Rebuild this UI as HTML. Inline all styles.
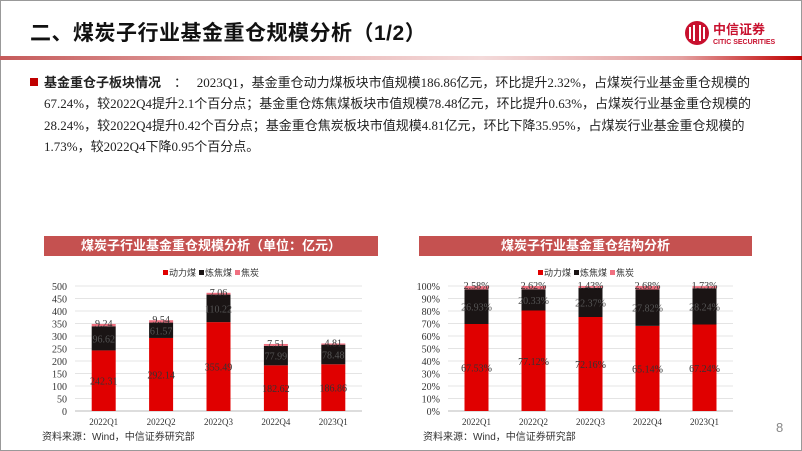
<!DOCTYPE html>
<html><head><meta charset="utf-8"><style>
body{margin:0;width:802px;height:451px;overflow:hidden;background:#fff;position:relative;font-family:"Liberation Serif","Noto Sans CJK SC",serif}
.abs{position:absolute}
.title{left:30px;top:17px;font:bold 21px "Liberation Sans","Noto Sans CJK SC",sans-serif;color:#111;letter-spacing:0.5px}
.rule{left:0;top:56px;width:802px;height:4px;background:linear-gradient(to right,#c55a5a 0%,#e9b3b3 35%,#f3dada 60%,#e3a0a0 85%,#c00000 100%)}
.para{left:44px;top:72px;font-size:13px;color:#222;line-height:21.3px;font-family:"Liberation Serif","Noto Sans CJK SC",serif}
.para div{white-space:nowrap}
.hdr{height:20px;background:#c55150;color:#fff;font:bold 13px "Liberation Sans","Noto Sans CJK SC",sans-serif;text-align:center;line-height:20px}
.src{font:10px "Liberation Sans","Noto Sans CJK SC",sans-serif;color:#333}
svg text{font-family:"Liberation Serif",serif}
</style></head><body>
<div class="abs" style="left:0;top:0;width:800px;height:449px;border:1px solid #999"></div>
<div class="abs title">二、煤炭子行业基金重仓规模分析（1/2）</div>
<div class="abs rule"></div>
<div class="abs" style="left:684px;top:19px;width:100px;height:28px">
 <svg width="100" height="28"><circle cx="13" cy="14" r="12" fill="#c8102e"/><path d="M6 8v12M10 6v16M16 6v16M20 8v12" stroke="#fff" stroke-width="2"/>
 <text x="29" y="15" font-size="13" font-weight="bold" fill="#c8102e" style="font-family:'Noto Sans CJK SC',sans-serif">中信证券</text>
 <text x="29" y="25" font-size="7" fill="#c8102e" style="font-family:'Liberation Sans',sans-serif;font-weight:bold">CITIC SECURITIES</text></svg></div>
<div class="abs" style="left:30px;top:78px;width:8px;height:8px;background:#c00000"></div>
<div class="abs para">
<div><b style="font-family:'Liberation Sans','Noto Sans CJK SC',sans-serif">基金重仓子板块情况</b>&nbsp;&nbsp;&nbsp;&nbsp;：&nbsp;&nbsp;&nbsp;2023Q1，基金重仓动力煤板块市值规模186.86亿元，环比提升2.32%，占煤炭行业基金重仓规模的</div>
<div>67.24%，较2022Q4提升2.1个百分点；基金重仓炼焦煤板块市值规模78.48亿元，环比提升0.63%，占煤炭行业基金重仓规模的</div>
<div>28.24%，较2022Q4提升0.42个百分点；基金重仓焦炭板块市值规模4.81亿元，环比下降35.95%，占煤炭行业基金重仓规模的</div>
<div>1.73%，较2022Q4下降0.95个百分点。</div>
</div>
<div class="abs hdr" style="left:44px;top:236px;width:334px">煤炭子行业基金重仓规模分析（单位：亿元）</div>
<div class="abs hdr" style="left:419px;top:236px;width:333px">煤炭子行业基金重仓结构分析</div>
<svg class="abs" id="c1" style="left:0;top:260px" width="400" height="170"></svg>
<svg class="abs" id="c2" style="left:400px;top:260px" width="400" height="170"></svg>
<div class="abs src" style="left:42px;top:428px">资料来源：Wind，中信证券研究部</div>
<div class="abs src" style="left:423px;top:428px">资料来源：Wind，中信证券研究部</div>
<div class="abs" style="left:776px;top:420px;font:13px 'Liberation Sans',sans-serif;color:#888">8</div>
<script>
const categories=["2022Q1","2022Q2","2022Q3","2022Q4","2023Q1"];
const seriesNames=["动力煤","炼焦煤","焦炭"];
const thermal=[242.31,292.14,355.49,182.62,186.86];
const coking=[96.62,61.57,110.22,77.99,78.48];
const coke=[9.24,9.54,7.06,7.51,4.81];
const scaleTicks=[0,50,100,150,200,250,300,350,400,450,500];
const pctThermal=[69.6,80.4,75.2,68.1,69.2];
const pctCoking=[27.7,17.0,23.3,29.1,29.0];
const pctCoke=[2.6,2.6,1.5,2.8,1.7];
const pctThermalLabels=["67.53%","77.12%","72.16%","65.14%","67.24%"];
const pctCokingLabels=["26.93%","20.33%","22.37%","27.82%","28.24%"];
const pctCokeLabels=["2.58%","2.62%","1.43%","2.68%","1.73%"];
const pctTicks=[0,10,20,30,40,50,60,70,80,90,100];
const colors=["#e00000","#1a1414","#f07080"];
const NS="http://www.w3.org/2000/svg";
function mk(svg,tag,attrs,txt){const e=document.createElementNS(NS,tag);for(const k in attrs)e.setAttribute(k,attrs[k]);if(txt!==undefined)e.textContent=txt;svg.appendChild(e);return e;}
function draw(svgId,x0,x1,max,ticks,tickFmt,series,labels,legendX,prefix){
 const svg=document.getElementById(svgId);
 const yT=26,yB=151;
 const y=v=>yB-(v/max)*(yB-yT);
 const step=(x1-x0)/categories.length;
 const cx=i=>x0+step*(i+0.5);
 ticks.forEach(t=>{
  const g=mk(svg,'line',{x1:x0,x2:x1,y1:y(t),y2:y(t),stroke:t===0?'#bbb':'#e4e4e4','stroke-width':1});
  
  
  const tl=mk(svg,'text',{x:x0-8,y:y(t)+4,'text-anchor':'end','font-size':10,fill:'#333'},tickFmt(t));
  
  
 });
 categories.forEach((c,i)=>{
  let base=0;
  series.forEach((s,k)=>{
   const v=s[i];
   const r=mk(svg,'rect',{x:cx(i)-12,y:y(base+v),width:24,height:y(base)-y(base+v),fill:colors[k]});
   
   
   const ly=k===2?y(base+v)+3:(y(base)+y(base+v))/2+4;
   const t=mk(svg,'text',{x:cx(i),y:ly,'text-anchor':'middle','font-size':10,fill:k===1?'#555':'#333'},labels[k][i]);
   
   
   base+=v;
  });
  const xl=mk(svg,'text',{x:cx(i),y:yB+14,'text-anchor':'middle','font-size':9,fill:'#333'},c);
  
  
 });
 seriesNames.forEach((n,k)=>{
  const lx=legendX+k*36;
  const r=mk(svg,'rect',{x:lx,y:10,width:5,height:5,fill:colors[k]});
  
  
  const t=mk(svg,'text',{x:lx+6,y:16,'font-size':9,fill:'#333',style:"font-family:'Noto Sans CJK SC',sans-serif"},n);
  
  
 });
}
draw('c1',75,362,500,scaleTicks,t=>t,[thermal,coking,coke],[thermal.map(v=>v.toFixed(2)),coking.map(v=>v.toFixed(2)),coke.map(v=>v.toFixed(2))],163,'scale');
draw('c2',48,333,100,pctTicks,t=>t+'%',[pctThermal,pctCoking,pctCoke],[pctThermalLabels,pctCokingLabels,pctCokeLabels],138,'share');
</script>
</body></html>
